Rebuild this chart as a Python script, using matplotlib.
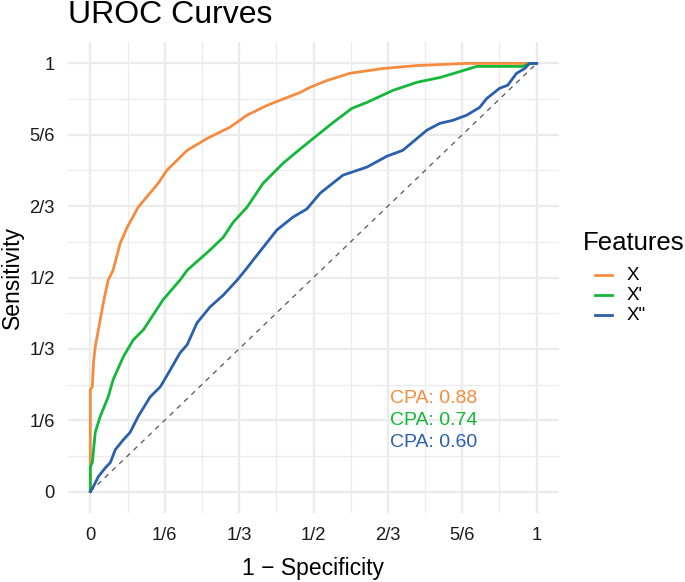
import matplotlib
matplotlib.use("Agg")
import matplotlib.pyplot as plt
from matplotlib.lines import Line2D
import numpy as np

plt.rcParams['font.family'] = ['Liberation Sans', 'DejaVu Sans']

# ---- data ----
x_fpr = [0, 0, 0.0045, 0.007, 0.011, 0.029, 0.040, 0.051, 0.067, 0.083, 0.107, 0.152,
         0.172, 0.217, 0.262, 0.313, 0.351, 0.396, 0.425, 0.470, 0.492, 0.530,
         0.582, 0.655, 0.732, 0.843, 1.0]
x_tpr = [0, 0.238, 0.245, 0.30, 0.338, 0.44, 0.494, 0.517, 0.580, 0.618, 0.664, 0.720,
         0.751, 0.797, 0.825, 0.851, 0.879, 0.902, 0.914, 0.932, 0.944, 0.960,
         0.977, 0.988, 0.995, 1.0, 1.0]

xp_fpr = [0, 0, 0.0045, 0.011, 0.022, 0.040, 0.051, 0.074, 0.096, 0.119, 0.163, 0.201,
          0.217, 0.268, 0.298, 0.320, 0.351, 0.387, 0.432, 0.470, 0.508, 0.544,
          0.586, 0.620, 0.678, 0.732, 0.783, 0.828, 0.866, 0.969, 0.984, 1.0]
xp_tpr = [0, 0.058, 0.068, 0.138, 0.175, 0.221, 0.261, 0.315, 0.354, 0.378, 0.448, 0.494,
          0.517, 0.564, 0.594, 0.629, 0.664, 0.720, 0.767, 0.800, 0.832, 0.862,
          0.895, 0.909, 0.937, 0.956, 0.967, 0.981, 0.993, 0.993, 1.0, 1.0]

xpp_fpr = [0, 0.007, 0.018, 0.034, 0.045, 0.056, 0.074, 0.089, 0.107, 0.134, 0.157, 0.179,
           0.201, 0.217, 0.239, 0.268, 0.298, 0.329, 0.347, 0.365, 0.418, 0.454,
           0.485, 0.515, 0.566, 0.620, 0.664, 0.700, 0.754, 0.783, 0.812, 0.843,
           0.872, 0.888, 0.917, 0.935, 0.955, 0.973, 0.984, 1.0]
xpp_tpr = [0, 0.012, 0.035, 0.056, 0.068, 0.098, 0.121, 0.138, 0.175, 0.221, 0.245, 0.284,
           0.324, 0.343, 0.394, 0.431, 0.459, 0.494, 0.517, 0.541, 0.611, 0.641,
           0.660, 0.697, 0.739, 0.758, 0.783, 0.797, 0.844, 0.860, 0.867, 0.879,
           0.897, 0.918, 0.942, 0.949, 0.977, 0.988, 1.0, 1.0]

series_names = ["X", "X'", 'X"']
series_colors = ["#F58C3F", "#13B73A", "#2A5FAD"]
cpa_values = [0.88, 0.74, 0.60]

tick_vals = [0, 1/6, 1/3, 1/2, 2/3, 5/6, 1]
tick_labels = ["0", "1/6", "1/3", "1/2", "2/3", "5/6", "1"]

# ---- figure ----
W, H = 685, 582
fig = plt.figure(figsize=(W / 100, H / 100), dpi=100)
ax = fig.add_axes([68 / W, 1 - 513 / H, (559 - 68) / W, (513 - 42) / H])
ax.set_xlim(-0.05, 1.05)
ax.set_ylim(-0.05, 1.05)

for s in ax.spines.values():
    s.set_visible(False)

ax.set_xticks(tick_vals)
ax.set_xticklabels(tick_labels)
ax.set_yticks(tick_vals)
ax.set_yticklabels(tick_labels)
minor = [v + 1 / 12 for v in tick_vals[:-1]]
ax.set_xticks(minor, minor=True)
ax.set_yticks(minor, minor=True)
ax.tick_params(which='both', length=0)
ax.tick_params(axis='x', pad=10, labelsize=13.2, labelcolor='#1a1a1a')
ax.tick_params(axis='y', pad=9.5, labelsize=13.2, labelcolor='#1a1a1a')
ax.grid(which='major', color='#EBEBEB', linewidth=1.7)
ax.grid(which='minor', color='#EBEBEB', linewidth=0.9)
ax.set_axisbelow(True)

ax.plot([0, 1], [0, 1], linestyle=(0, (4, 4)), color='#555555', linewidth=0.9)

data = [(x_fpr, x_tpr), (xp_fpr, xp_tpr), (xpp_fpr, xpp_tpr)]
for (fx, fy), c, n in zip(data, series_colors, series_names):
    ax.plot(fx, fy, color=c, linewidth=2.0, label=n, solid_joinstyle='round')

ann_y = [0.217, 0.165, 0.114]
for v, c, yy in zip(cpa_values, series_colors, ann_y):
    ax.text(0.671, yy, f"CPA: {v:.2f}", color=c, fontsize=14, va='center', ha='left')

ax.set_xlabel("1 \u2212 Specificity", fontsize=16.5)
ax.set_ylabel("Sensitivity", fontsize=16.5)
ax.xaxis.set_label_coords(0.5, (513 - 568) / 471)
ax.yaxis.set_label_coords((12 - 68) / 491, 0.5)
ax.xaxis.label.set_va('center')
ax.yaxis.label.set_va('center')
fig.text(68 / W, 1 - 15 / H, "UROC Curves", fontsize=23, ha='left', va='center')

# legend (manual, ggplot-style)
fig.text(583 / W, 1 - 243 / H, "Features", fontsize=18.5, ha='left', va='center')
leg_y = [275, 295, 315]
for n, c, yy in zip(series_names, series_colors, leg_y):
    fig.add_artist(Line2D([595 / W, 612 / W], [1 - yy / H, 1 - yy / H], color=c, linewidth=2.0))
    fig.text(627 / W, 1 - yy / H, n, fontsize=13.5, ha='left', va='center')

fig.savefig("out.png", dpi=100)
